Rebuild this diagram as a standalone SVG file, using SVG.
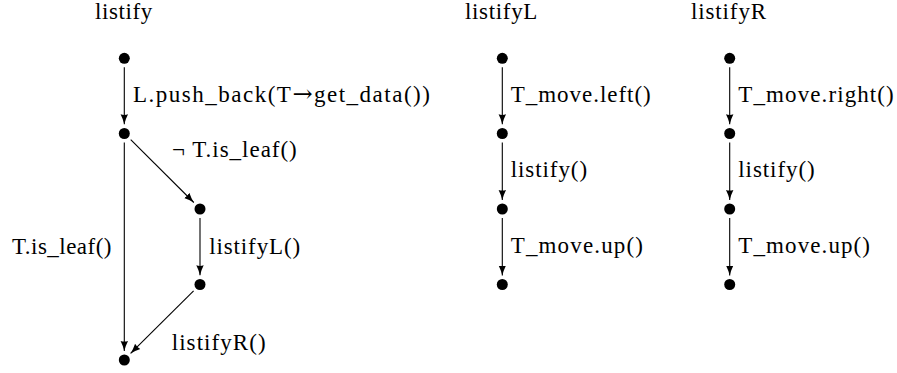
<svg xmlns="http://www.w3.org/2000/svg" width="897" height="373" viewBox="0 0 897 373">
  <style>
    .t { font-family: 'Liberation Serif', 'Times New Roman', serif; font-size: 23px; fill: #000; }
    .ar { font-family: 'DejaVu Serif', serif; font-size: 24px; }
    .node { fill: #000; }
    .edge { stroke: #000; stroke-width: 1.1; fill: none; marker-end: url(#arr); }
  </style>
  <defs>
    <marker id="arr" markerWidth="12" markerHeight="10" viewBox="0 0 12 10" refX="10" refY="5" orient="auto" markerUnits="userSpaceOnUse">
      <path d="M0,1.3 Q5,3.8 10,5 Q5,6.2 0,8.7 Q1.2,5 0,1.3 Z" fill="#000"/>
    </marker>
  </defs>
  <rect width="897" height="373" fill="#fff"/>

  <g id="titles">
    <text class="t" x="95" y="19" letter-spacing="0.6">listify</text>
    <text class="t" x="465" y="19" letter-spacing="0.66">listifyL</text>
    <text class="t" x="691" y="19" letter-spacing="0.87">listifyR</text>
  </g>

  <g id="connectors">
    <path class="edge" d="M124.3,67.3 L124.3,124.3"/>
    <path class="edge" d="M130.7,139.6 L193.8,202.5"/>
    <path class="edge" d="M200,218 L200,275.3"/>
    <path class="edge" d="M193.6,290.9 L130.6,353.4"/>
    <path class="edge" d="M124.3,142.5 L124.3,351"/>

    <path class="edge" d="M502.3,67.3 L502.3,124.3"/>
    <path class="edge" d="M502.3,142.5 L502.3,200"/>
    <path class="edge" d="M502.3,218 L502.3,275.5"/>

    <path class="edge" d="M729.7,67.3 L729.7,124.3"/>
    <path class="edge" d="M729.7,142.5 L729.7,200"/>
    <path class="edge" d="M729.7,218 L729.7,275.5"/>
  </g>

  <g id="labels">
    <text class="t" x="133" y="102" letter-spacing="1.5">L.push_back(T<tspan class="ar">→</tspan>get_data())</text>
    <text class="t" x="172" y="157" letter-spacing="0.98">¬ T.is_leaf()</text>
    <text class="t" x="12" y="254" letter-spacing="0.47">T.is_leaf()</text>
    <text class="t" x="209.3" y="253.5" letter-spacing="0.86">listifyL()</text>
    <text class="t" x="171.7" y="350" letter-spacing="1.07">listifyR()</text>

    <text class="t" x="510.7" y="102" letter-spacing="0.97">T_move.left()</text>
    <text class="t" x="510.7" y="177" letter-spacing="0.92">listify()</text>
    <text class="t" x="510.7" y="253" letter-spacing="1.15">T_move.up()</text>

    <text class="t" x="738.3" y="102" letter-spacing="1.1">T_move.right()</text>
    <text class="t" x="738.3" y="177" letter-spacing="0.92">listify()</text>
    <text class="t" x="738.3" y="253" letter-spacing="1.1">T_move.up()</text>
  </g>

  <g id="n_listify_0"><circle class="node" cx="124.3" cy="58.3" r="5.5"/></g>
  <g id="n_listify_1"><circle class="node" cx="124.3" cy="133.5" r="5.5"/></g>
  <g id="n_listify_2"><circle class="node" cx="200" cy="209" r="5.5"/></g>
  <g id="n_listify_3"><circle class="node" cx="200" cy="284.5" r="5.5"/></g>
  <g id="n_listify_4"><circle class="node" cx="124.3" cy="360" r="5.5"/></g>

  <g id="n_listifyL_0"><circle class="node" cx="502.3" cy="58.3" r="5.5"/></g>
  <g id="n_listifyL_1"><circle class="node" cx="502.3" cy="133.5" r="5.5"/></g>
  <g id="n_listifyL_2"><circle class="node" cx="502.3" cy="209" r="5.5"/></g>
  <g id="n_listifyL_3"><circle class="node" cx="502.3" cy="284.5" r="5.5"/></g>

  <g id="n_listifyR_0"><circle class="node" cx="729.7" cy="58.3" r="5.5"/></g>
  <g id="n_listifyR_1"><circle class="node" cx="729.7" cy="133.5" r="5.5"/></g>
  <g id="n_listifyR_2"><circle class="node" cx="729.7" cy="209" r="5.5"/></g>
  <g id="n_listifyR_3"><circle class="node" cx="729.7" cy="284.5" r="5.5"/></g>
</svg>
